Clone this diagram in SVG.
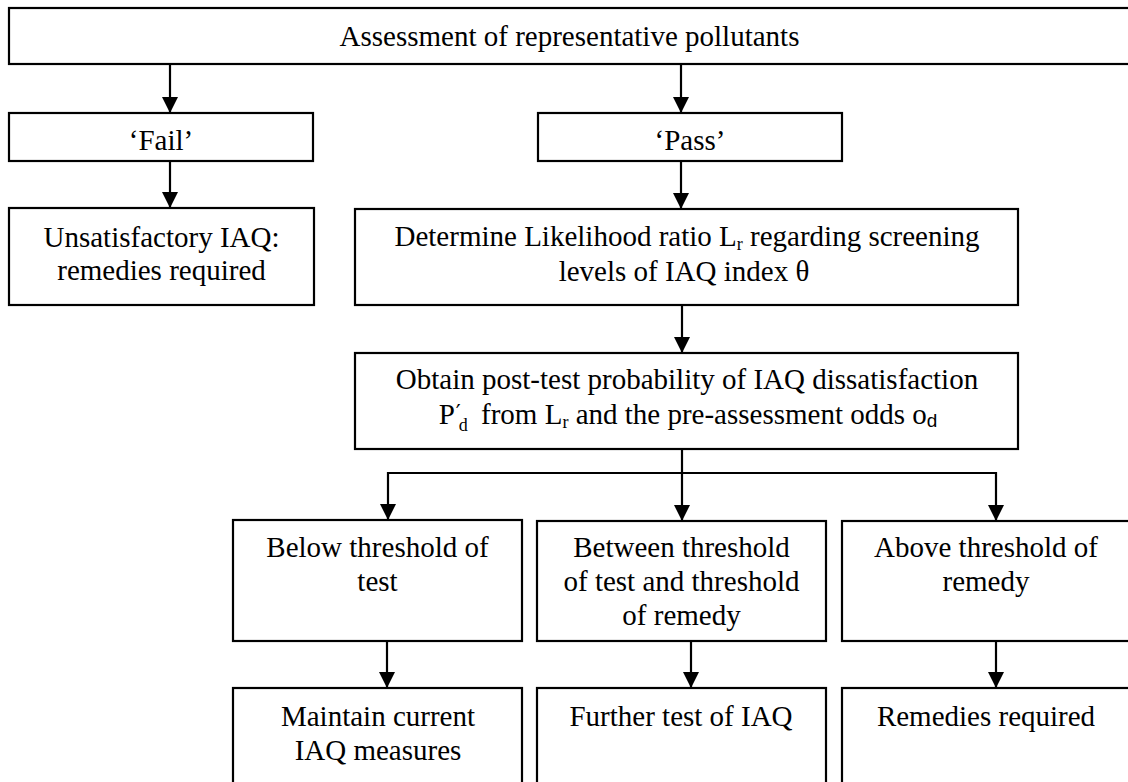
<svg xmlns="http://www.w3.org/2000/svg" width="1128" height="782" viewBox="0 0 1128 782">
<defs>
<marker id="ah" viewBox="0 0 16 16" refX="16" refY="8" markerWidth="16" markerHeight="16" markerUnits="userSpaceOnUse" orient="auto">
<path d="M0,0 L16,8 L0,16 Z" fill="#000"/>
</marker>
<style>
rect{fill:#fff;stroke:#000;stroke-width:2.2}
text{font-family:"Liberation Serif","Times New Roman",serif;font-size:29px;fill:#000;text-anchor:middle}
.c{fill:none;stroke:#000;stroke-width:2.2}
.a{marker-end:url(#ah)}
.s{font-size:18px}
</style>
</defs>
<rect width="1128" height="782" style="fill:#fff;stroke:none"/>
<g id="connectors">
<line class="c a" x1="170" y1="64" x2="170" y2="113"/>
<line class="c a" x1="681" y1="64" x2="681" y2="113"/>
<line class="c a" x1="170" y1="161" x2="170" y2="208"/>
<line class="c a" x1="681" y1="161" x2="681" y2="209"/>
<line class="c a" x1="682" y1="305" x2="682" y2="353"/>
<line class="c a" x1="682" y1="449" x2="682" y2="521"/>
<polyline class="c a" points="682,473 388,473 388,520"/>
<polyline class="c a" points="682,473 996,473 996,521"/>
<line class="c a" x1="387" y1="641" x2="387" y2="688"/>
<line class="c a" x1="691" y1="641" x2="691" y2="688"/>
<line class="c a" x1="996" y1="641" x2="996" y2="688"/>
</g>
<g id="n-assess">
<rect x="9" y="8" width="1121" height="56"/>
<text x="569.5" y="46">Assessment of representative pollutants</text>
</g>
<g id="n-fail">
<rect x="9" y="113" width="304" height="48"/>
<text x="161" y="150">‘Fail’</text>
</g>
<g id="n-pass">
<rect x="538" y="113" width="304" height="48"/>
<text x="690" y="150">‘Pass’</text>
</g>
<g id="n-unsat">
<rect x="9" y="208" width="305" height="97"/>
<text x="161.5" y="247">Unsatisfactory IAQ:</text>
<text x="161.5" y="280">remedies required</text>
</g>
<g id="n-determine">
<rect x="355" y="209" width="663" height="96"/>
<text x="687" y="246">Determine Likelihood ratio L<tspan class="s" dy="4">r</tspan><tspan dy="-4"> regarding screening</tspan></text>
<text x="684" y="281">levels of IAQ index θ</text>
</g>
<g id="n-obtain">
<rect x="355" y="353" width="663" height="96"/>
<text x="687" y="389">Obtain post-test probability of IAQ dissatisfaction</text>
<text x="688" y="424">P<tspan style="font-size:22px;font-family:'DejaVu Serif',serif" dx="1" dy="-4">′</tspan><tspan class="s" dx="-2" dy="11">d</tspan><tspan dx="6" dy="-7"> from L</tspan><tspan class="s" dy="4">r</tspan><tspan dy="-4"> and the pre-assessment odds o</tspan><tspan style="font-size:19px;font-family:'Liberation Sans',sans-serif" dy="3">d</tspan></text>
</g>
<g id="n-below">
<rect x="233" y="520" width="289" height="121"/>
<text x="377.5" y="557">Below threshold of</text>
<text x="377.5" y="591">test</text>
</g>
<g id="n-between">
<rect x="537" y="521" width="289" height="120"/>
<text x="681.5" y="557">Between threshold</text>
<text x="681.5" y="591">of test and threshold</text>
<text x="681.5" y="625">of remedy</text>
</g>
<g id="n-above">
<rect x="842" y="521" width="288" height="120"/>
<text x="986" y="557">Above threshold of</text>
<text x="986" y="591">remedy</text>
</g>
<g id="n-maintain">
<rect x="233" y="688" width="289" height="110"/>
<text x="378" y="726">Maintain current</text>
<text x="378" y="760">IAQ measures</text>
</g>
<g id="n-further">
<rect x="537" y="688" width="289" height="110"/>
<text x="681" y="726">Further test of IAQ</text>
</g>
<g id="n-remedies">
<rect x="842" y="688" width="288" height="110"/>
<text x="986" y="726">Remedies required</text>
</g>
</svg>
